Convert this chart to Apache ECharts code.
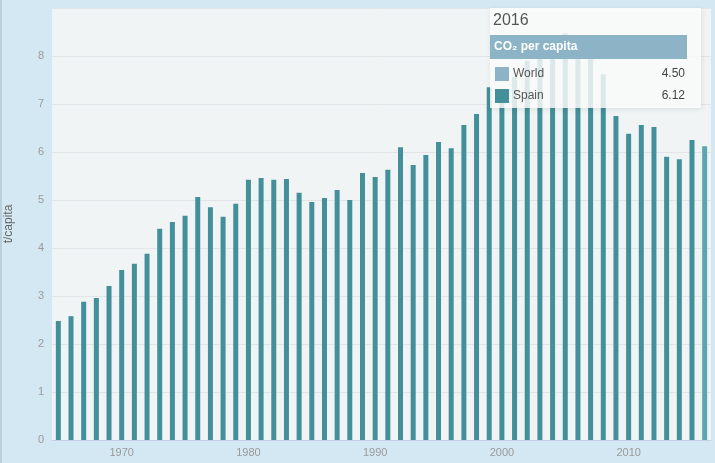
<!DOCTYPE html>
<html>
<head>
<meta charset="utf-8">
<script src="https://cdn.jsdelivr.net/npm/echarts@6/dist/echarts.min.js"></script>
<style>
  html, body { margin: 0; padding: 0; background: #d3e8f3; }
  #main { width: 715px; height: 463px; }
</style>
</head>
<body>
<div id="main"></div>
<script>
// years shown on the x axis
var years = [];
for (var y = 1965; y <= 2016; y++) { years.push(String(y)); }

// Spain, CO2 per capita (t)
var spain = [
  2.48, 2.58, 2.88, 2.96, 3.21, 3.54, 3.67, 3.88, 4.40, 4.54,
  4.67, 5.06, 4.85, 4.65, 4.92, 5.42, 5.46, 5.42, 5.44, 5.15,
  4.96, 5.04, 5.21, 5.00, 5.56, 5.48, 5.63, 6.10, 5.73, 5.94,
  6.21, 6.08, 6.56, 6.79, 7.35, 7.20, 7.56, 7.90, 8.00, 8.20,
  8.47, 8.25, 8.15, 7.62, 6.75, 6.38, 6.56, 6.52, 5.90, 5.85,
  6.25, 6.12
];

var yTicks = [0, 1, 2, 3, 4, 5, 6, 7, 8, 9];

// tooltip box contents
var tipYear = '2016';
var tipRows = [
  { name: 'World', value: '4.50', color: '#8cb3c6' },
  { name: 'Spain', value: '6.12', color: '#438f9a' }
];

var barColor = '#438f9a';
var hoverColor = '#5ba6af';
var font = '"Liberation Sans", Arial, sans-serif';

var myChart = echarts.init(document.getElementById('main'));

var barData = spain.map(function (v, i) {
  if (years[i] === tipYear) {
    return { value: v, itemStyle: { color: hoverColor } };
  }
  return v;
});

function decade(i, v) { return Number(v) % 10 === 0; }

// tooltip-like box drawn with graphic elements
var tipChildren = [
  {
    type: 'rect', z: 100,
    shape: { x: 0, y: 0, width: 211, height: 100 },
    style: {
      fill: 'rgba(255,255,255,0.82)',
      shadowBlur: 5, shadowOffsetX: 1, shadowOffsetY: 1,
      shadowColor: 'rgba(0,0,0,0.12)'
    }
  },
  {
    type: 'text', z: 101, x: 3, y: 13,
    style: { text: tipYear, fill: '#555', font: '16px ' + font, verticalAlign: 'middle' }
  },
  {
    type: 'rect', z: 101,
    shape: { x: 0, y: 27, width: 197, height: 24 },
    style: { fill: '#8cb3c6' }
  },
  {
    type: 'text', z: 102, x: 4, y: 39,
    style: { text: 'CO\u2082 per capita', fill: '#fff', font: 'bold 12px ' + font, verticalAlign: 'middle' }
  }
];
tipRows.forEach(function (r, k) {
  var top = 59 + k * 22;
  tipChildren.push({
    type: 'rect', z: 101,
    shape: { x: 5, y: top, width: 14, height: 14 },
    style: { fill: r.color }
  });
  tipChildren.push({
    type: 'text', z: 101, x: 23, y: top + 7,
    style: { text: r.name, fill: '#555', font: '12px ' + font, verticalAlign: 'middle' }
  });
  tipChildren.push({
    type: 'text', z: 101, x: 195, y: top + 7,
    style: { text: r.value, fill: '#444', font: '12px ' + font, align: 'right', verticalAlign: 'middle' }
  });
});

var option = {
  backgroundColor: '#d3e8f3',
  animation: false,
  grid: {
    left: 52, right: 4, top: 8, bottom: 23,
    outerBoundsMode: 'none',
    containLabel: false,
    show: true, backgroundColor: '#f1f4f5', borderWidth: 0
  },
  xAxis: {
    type: 'category',
    data: years,
    axisLine: { lineStyle: { color: '#c6cfe6' } },
    axisTick: { alignWithLabel: true, interval: decade, length: 8, lineStyle: { color: '#c6cfe6' } },
    axisLabel: { interval: decade, color: '#9a9a9a', fontSize: 11, margin: 7, fontFamily: font }
  },
  yAxis: {
    type: 'value',
    min: yTicks[0], max: yTicks[yTicks.length - 1], interval: 1,
    name: 't/capita',
    nameLocation: 'middle',
    nameRotate: 90,
    nameGap: 37,
    nameTextStyle: { color: '#666', fontSize: 12, fontFamily: font },
    axisLine: { show: false },
    axisTick: { show: false },
    axisLabel: { showMaxLabel: false, color: '#9a9a9a', fontSize: 11, margin: 8, fontFamily: font },
    splitLine: { lineStyle: { color: '#e2e5e7' } }
  },
  series: [{
    name: 'Spain',
    type: 'bar',
    data: barData,
    barWidth: 5,
    itemStyle: { color: barColor }
  }],
  graphic: [
    { type: 'rect', left: 0, top: 0, z: 100, shape: { width: 2, height: 463 }, style: { fill: '#b9d0dd' } },
    { type: 'group', left: 490, top: 8, z: 100, children: tipChildren }
  ]
};

myChart.setOption(option);
</script>
</body>
</html>
